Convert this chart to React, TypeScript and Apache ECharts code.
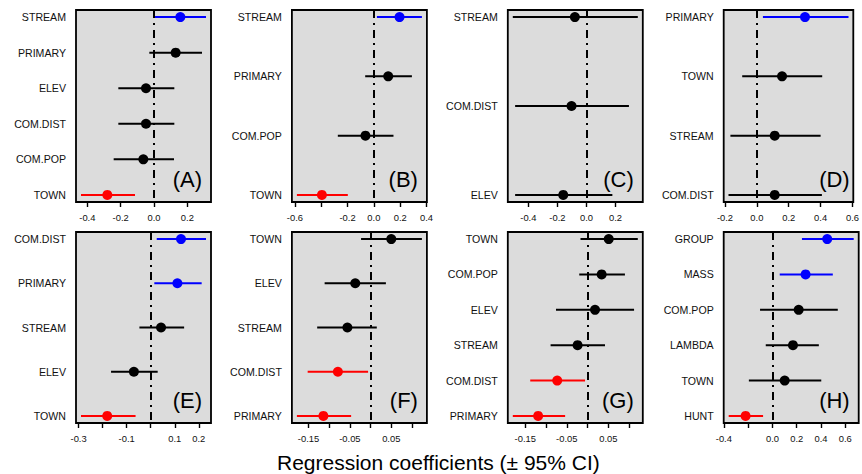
import React, { useEffect, useRef } from "react";
import * as echarts from "echarts";

// ---------- Data ----------
const varsA = ["STREAM", "PRIMARY", "ELEV", "COM.DIST", "COM.POP", "TOWN"];
const estA = [0.158, 0.13, -0.048, -0.048, -0.064, -0.28];
const lowA = [0.006, -0.028, -0.214, -0.214, -0.242, -0.438];
const highA = [0.312, 0.288, 0.122, 0.122, 0.12, -0.114];
const ticksA = [-0.4, -0.2, 0, 0.2];
const tickLabelsA = [-0.4, -0.2, 0, 0.2];

const varsB = ["STREAM", "PRIMARY", "COM.POP", "TOWN"];
const estB = [0.195, 0.109, -0.064, -0.395];
const lowB = [0.023, -0.066, -0.274, -0.585];
const highB = [0.365, 0.289, 0.149, -0.198];
const ticksB = [-0.6, -0.4, -0.2, 0, 0.2, 0.4];
const tickLabelsB = [-0.6, -0.2, 0, 0.2, 0.4];

const varsC = ["STREAM", "COM.DIST", "ELEV"];
const estC = [-0.08, -0.103, -0.16];
const lowC = [-0.507, -0.491, -0.491];
const highC = [0.353, 0.292, 0.178];
const ticksC = [-0.4, -0.2, 0, 0.2];
const tickLabelsC = [-0.4, -0.2, 0, 0.2];

const varsD = ["PRIMARY", "TOWN", "STREAM", "COM.DIST"];
const estD = [0.302, 0.158, 0.112, 0.112];
const lowD = [0.038, -0.092, -0.166, -0.178];
const highD = [0.575, 0.41, 0.4, 0.408];
const ticksD = [-0.2, 0, 0.2, 0.4, 0.6];
const tickLabelsD = [-0.2, 0, 0.2, 0.4, 0.6];

const varsE = ["COM.DIST", "PRIMARY", "STREAM", "ELEV", "TOWN"];
const estE = [0.126, 0.111, 0.043, -0.07, -0.181];
const lowE = [0.025, 0.015, -0.047, -0.165, -0.29];
const highE = [0.23, 0.212, 0.139, 0.029, -0.063];
const ticksE = [-0.3, -0.2, -0.1, 0, 0.1, 0.2];
const tickLabelsE = [-0.3, -0.1, 0.1, 0.2];

const varsF = ["TOWN", "ELEV", "STREAM", "COM.DIST", "PRIMARY"];
const estF = [0.05, -0.037, -0.056, -0.079, -0.114];
const lowF = [-0.023, -0.111, -0.129, -0.152, -0.178];
const highF = [0.124, 0.037, 0.015, -0.006, -0.047];
const ticksF = [-0.15, -0.1, -0.05, 0, 0.05, 0.1];
const tickLabelsF = [-0.15, -0.05, 0.05];

const varsG = ["TOWN", "COM.POP", "ELEV", "STREAM", "COM.DIST", "PRIMARY"];
const estG = [0.051, 0.034, 0.018, -0.024, -0.073, -0.119];
const lowG = [-0.017, -0.02, -0.076, -0.089, -0.138, -0.18];
const highG = [0.121, 0.09, 0.112, 0.042, -0.006, -0.054];
const ticksG = [-0.15, -0.1, -0.05, 0, 0.05, 0.1];
const tickLabelsG = [-0.15, -0.05, 0.05];

const varsH = ["GROUP", "MASS", "COM.POP", "LAMBDA", "TOWN", "HUNT"];
const estH = [0.451, 0.273, 0.216, 0.169, 0.101, -0.221];
const lowH = [0.243, 0.06, -0.102, -0.055, -0.194, -0.36];
const highH = [0.669, 0.497, 0.538, 0.382, 0.402, -0.077];
const ticksH = [-0.4, -0.2, 0, 0.2, 0.4, 0.6];
const tickLabelsH = [-0.4, 0, 0.2, 0.4, 0.6];

const panelLetters = ["(A)", "(B)", "(C)", "(D)", "(E)", "(F)", "(G)", "(H)"];
const xTitle = "Regression coefficients (\u00B1 95% CI)";

const panels = [
  { vars: varsA, est: estA, low: lowA, high: highA, ticks: ticksA, labels: tickLabelsA, digits: 1 },
  { vars: varsB, est: estB, low: lowB, high: highB, ticks: ticksB, labels: tickLabelsB, digits: 1 },
  { vars: varsC, est: estC, low: lowC, high: highC, ticks: ticksC, labels: tickLabelsC, digits: 1 },
  { vars: varsD, est: estD, low: lowD, high: highD, ticks: ticksD, labels: tickLabelsD, digits: 1 },
  { vars: varsE, est: estE, low: lowE, high: highE, ticks: ticksE, labels: tickLabelsE, digits: 1 },
  { vars: varsF, est: estF, low: lowF, high: highF, ticks: ticksF, labels: tickLabelsF, digits: 2 },
  { vars: varsG, est: estG, low: lowG, high: highG, ticks: ticksG, labels: tickLabelsG, digits: 2 },
  { vars: varsH, est: estH, low: lowH, high: highH, ticks: ticksH, labels: tickLabelsH, digits: 1 },
];

const FONT = '"Liberation Sans", Arial, Helvetica, sans-serif';

function colorOf(lo: number, hi: number) {
  if (lo > 0) return "#0000FF";
  if (hi < 0) return "#FF0000";
  return "#000000";
}

export default function App() {
  const ref = useRef<HTMLDivElement>(null);

  useEffect(() => {
    const chart = echarts.init(ref.current!, null, { renderer: "svg" });
    const grids: any[] = [];
    const xAxes: any[] = [];
    const yAxes: any[] = [];
    const series: any[] = [];
    const graphics: any[] = [];

    panels.forEach((p, i) => {
      const col = i % 4;
      const row = Math.floor(i / 4);
      const left = 76 + col * 215.9;
      const top = row === 0 ? 10 : 232;
      const width = 135;
      const height = row === 0 ? 192 : 191;
      grids.push({
        left,
        top,
        width,
        height,
        show: true,
        backgroundColor: "#DCDCDC",
        borderColor: "#000",
        borderWidth: 1.8,
      });
      const lo = Math.min(...p.low);
      const hi = Math.max(...p.high);
      const ext = 0.04 * (hi - lo);
      const n = p.vars.length;
      const yext = 0.04 * (n - 1);
      xAxes.push({
        type: "value",
        gridIndex: i,
        min: lo - ext,
        max: hi + ext,
        splitLine: { show: false },
        axisLine: { show: false },
        axisTick: {
          show: true,
          length: 5,
          customValues: p.ticks,
          lineStyle: { color: "#000", width: 1.4 },
        },
        axisLabel: {
          customValues: p.labels,
          formatter: (v: number) => v.toFixed(p.digits),
          margin: 11,
          fontSize: 9.4,
          color: "#111",
          fontFamily: FONT,
        },
      });
      yAxes.push({
        type: "value",
        gridIndex: i,
        inverse: true,
        min: 1 - yext,
        max: n + yext,
        splitLine: { show: false },
        axisLine: { show: false },
        axisTick: { show: false },
        axisLabel: {
          customValues: p.vars.map((_, k) => k + 1),
          formatter: (v: number) => p.vars[Math.round(v) - 1] ?? "",
          margin: 10,
          fontSize: 10.6,
          color: "#111",
          fontFamily: FONT,
        },
      });
      series.push({
        type: "custom",
        xAxisIndex: i,
        yAxisIndex: i,
        z: 2,
        encode: { x: [0, 1], y: 2 },
        data: p.low.map((l, k) => [l, p.high[k], k + 1]),
        renderItem: (params: any, api: any) => {
          const y = api.value(2);
          const l = api.value(0);
          const h = api.value(1);
          const a = api.coord([l, y]);
          const b = api.coord([h, y]);
          return {
            type: "line",
            shape: { x1: a[0], y1: a[1], x2: b[0], y2: b[1] },
            style: { stroke: colorOf(l, h), lineWidth: 2 },
          };
        },
        markLine: {
          silent: true,
          symbol: ["none", "none"],
          label: { show: false },
          lineStyle: { color: "#000", width: 2, type: [8, 5, 2, 5] },
          data: [{ xAxis: 0 }],
        },
      });
      series.push({
        type: "scatter",
        xAxisIndex: i,
        yAxisIndex: i,
        z: 3,
        symbol: "circle",
        symbolSize: 10,
        data: p.est.map((e, k) => ({
          value: [e, k + 1],
          itemStyle: { color: colorOf(p.low[k], p.high[k]), opacity: 1 },
        })),
      });
      graphics.push({
        type: "text",
        x: left + width - 9,
        y: top + height - 23,
        z: 10,
        style: {
          text: panelLetters[i],
          fill: "#000",
          font: `22px ${FONT}`,
          align: "right",
          verticalAlign: "middle",
        },
      });
    });

    graphics.push({
      type: "text",
      x: 277,
      y: 462,
      style: {
        text: xTitle,
        fill: "#000",
        font: `21px ${FONT}`,
        align: "left",
        verticalAlign: "middle",
      },
    });

    chart.setOption({
      animation: false,
      backgroundColor: "#fff",
      grid: grids,
      xAxis: xAxes,
      yAxis: yAxes,
      series,
      graphic: graphics,
    });
    return () => chart.dispose();
  }, []);

  return (
    <div
      ref={ref}
      style={{ position: "fixed", left: 0, top: 0, width: 862, height: 474 }}
    />
  );
}
